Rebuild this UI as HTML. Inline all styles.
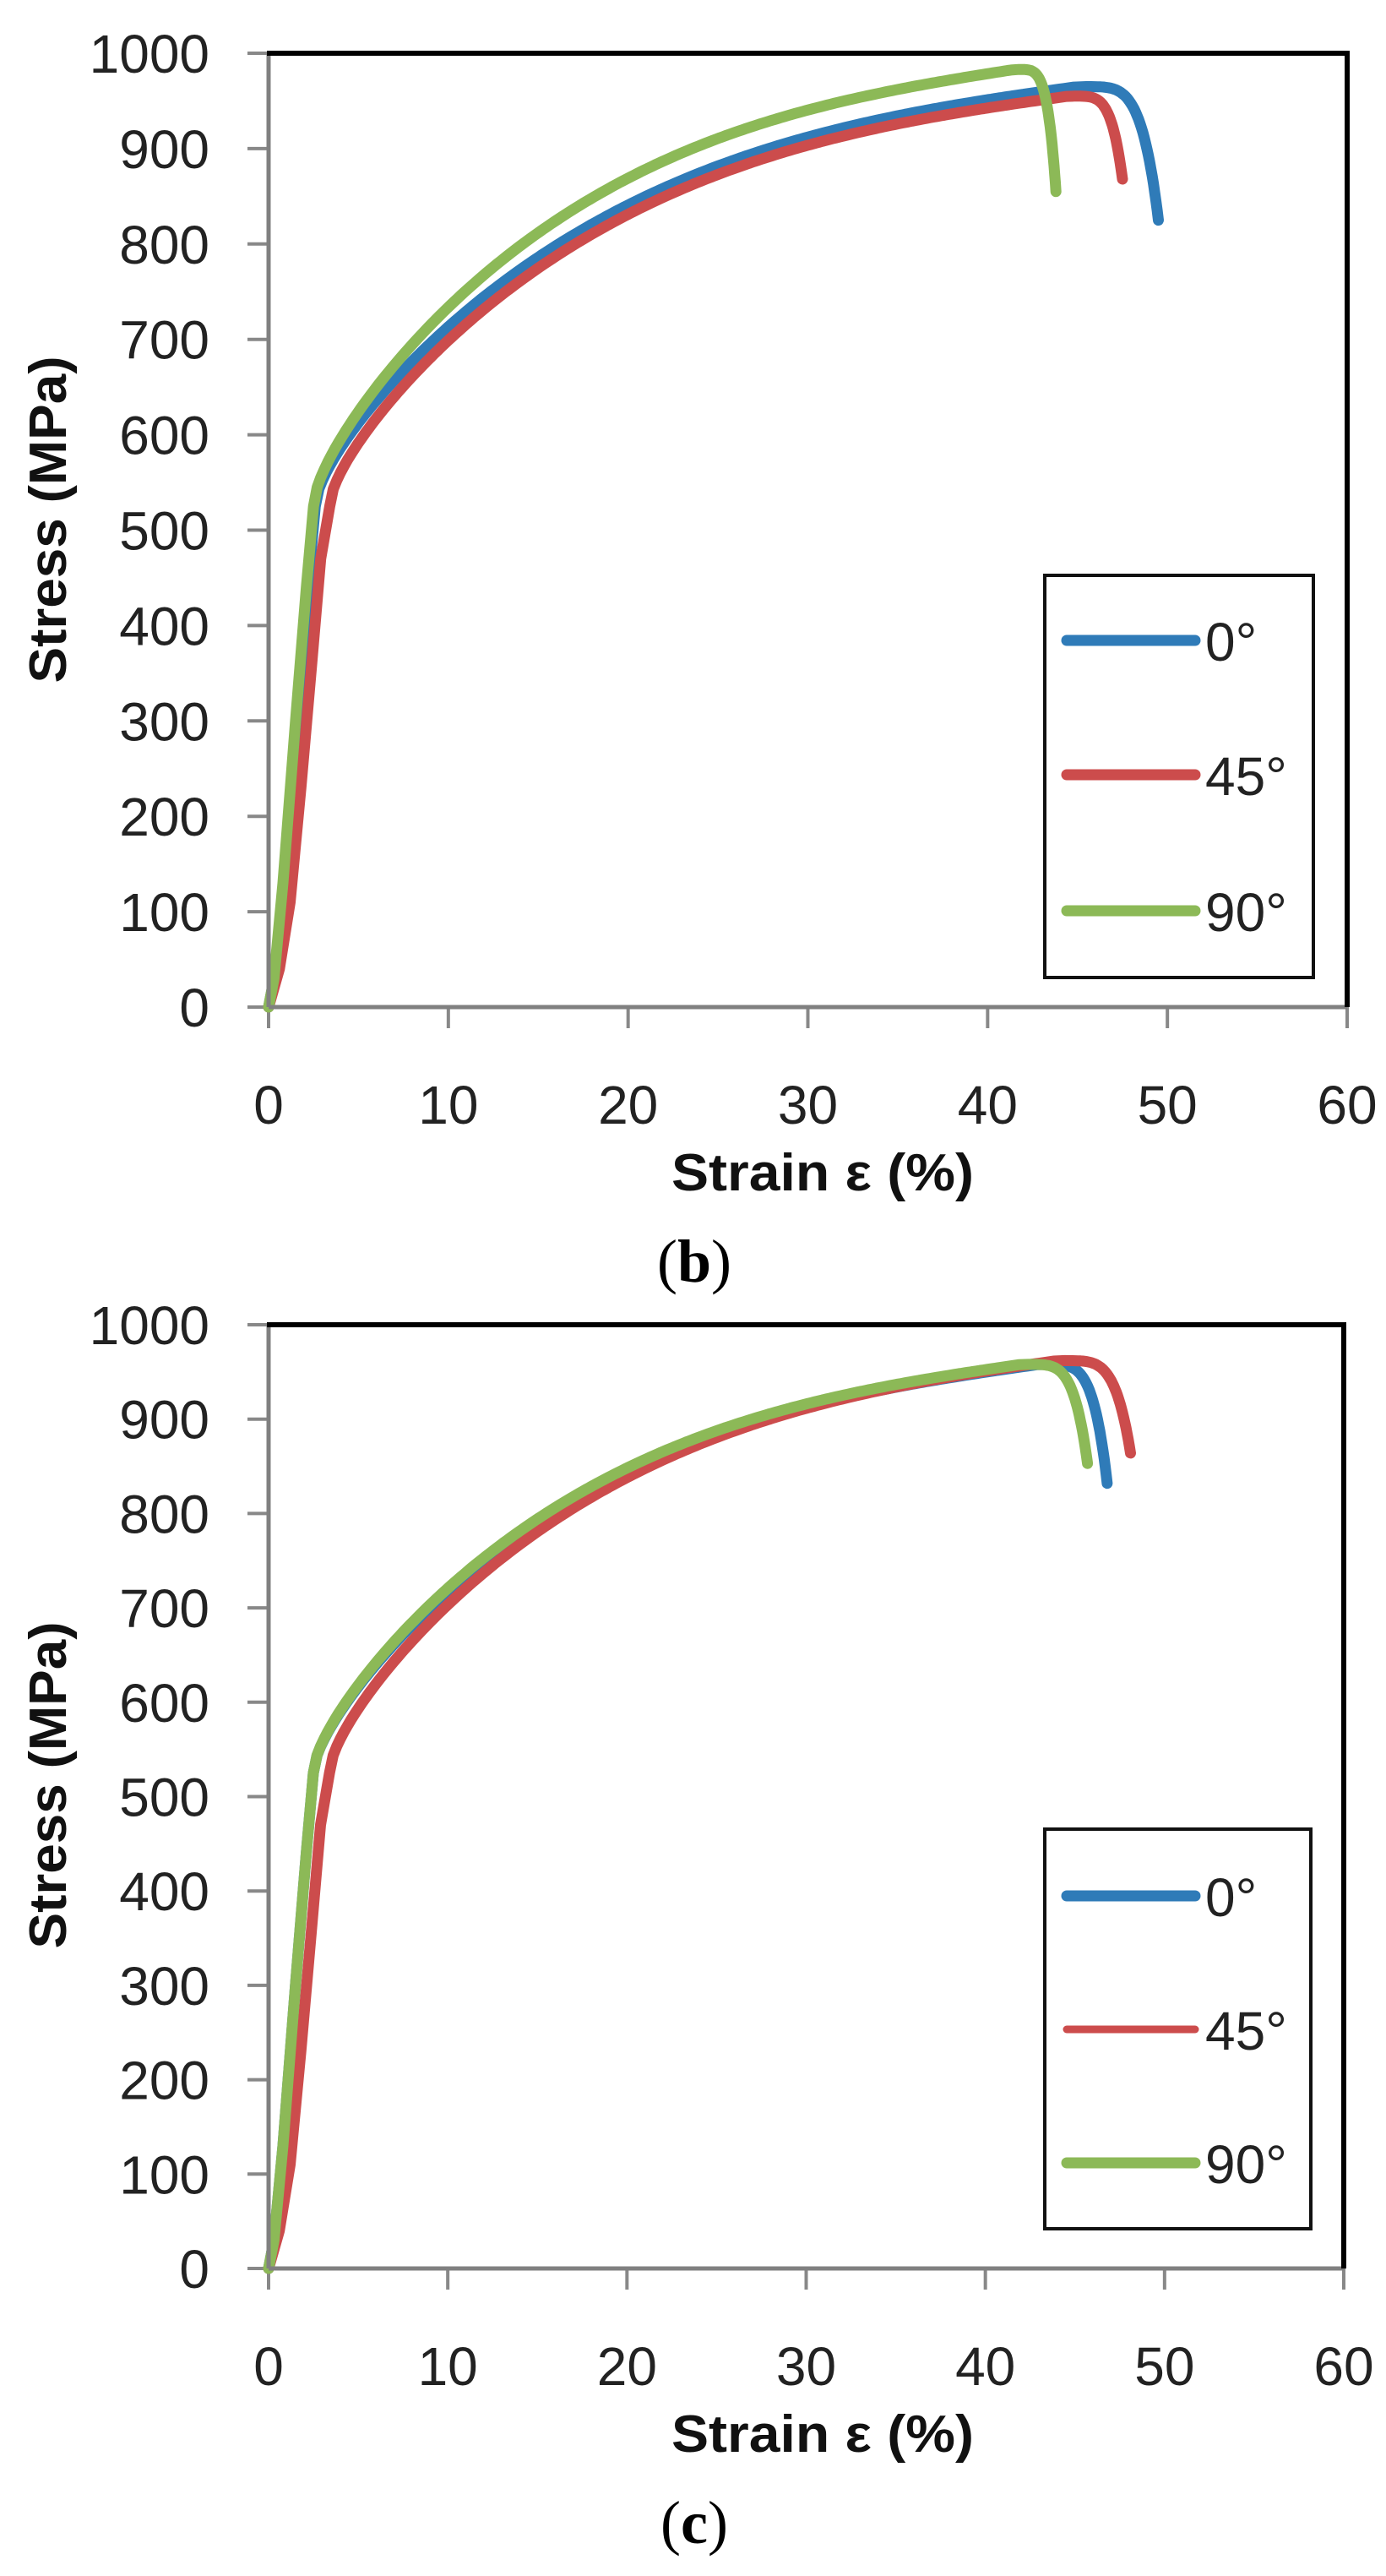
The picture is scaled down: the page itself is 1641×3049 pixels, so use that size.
<!DOCTYPE html>
<html><head><meta charset="utf-8">
<style>
html,body{margin:0;padding:0;background:#fff;}
svg{display:block;}
.tk{font-family:"Liberation Sans",sans-serif;font-size:64px;fill:#222;}
.tt{font-family:"Liberation Sans",sans-serif;font-size:62px;font-weight:bold;fill:#111;}
.cap{font-family:"Liberation Serif",serif;font-size:72px;fill:#000;}
</style></head>
<body>
<svg id="s" width="1641" height="3049" viewBox="0 0 1641 3049" xmlns="http://www.w3.org/2000/svg">
<rect width="1641" height="3049" fill="#fff"/>
<g id="g"></g>
<text class="tt" x="974" y="1409" text-anchor="middle" textLength="358" lengthAdjust="spacingAndGlyphs">Strain ε  (%)</text>
<text class="tt" transform="translate(78,615) rotate(-90)" text-anchor="middle" textLength="387" lengthAdjust="spacingAndGlyphs">Stress  (MPa)</text>
<text class="cap" x="822" y="1517" text-anchor="middle">(<tspan font-weight="bold">b</tspan>)</text>
<text class="tt" x="974" y="2902" text-anchor="middle" textLength="358" lengthAdjust="spacingAndGlyphs">Strain ε  (%)</text>
<text class="tt" transform="translate(78,2113) rotate(-90)" text-anchor="middle" textLength="387" lengthAdjust="spacingAndGlyphs">Stress  (MPa)</text>
<text class="cap" x="822" y="3010" text-anchor="middle">(<tspan font-weight="bold">c</tspan>)</text>
</svg>
<script>
var NS="http://www.w3.org/2000/svg",G=document.getElementById("g");
function el(t,a,txt){var e=document.createElementNS(NS,t);for(var k in a)e.setAttribute(k,a[k]);if(txt!==undefined)e.textContent=txt;G.appendChild(e);return e;}
var BLUE="#2f7bb8",RED="#cc4c4c",GREEN="#8cb957";
function curve(p){
  var pts=[];
  var toe=p.red?[[0,0],[0.6,40],[1.2,110],[1.8,230],[2.4,360],[2.9,470]]:[[0,0],[0.3,30],[0.8,130],[1.5,300],[2.1,440]];
  toe.forEach(function(q){pts.push([q[0]*p.eY/(p.red?3.4:2.5),q[1]]);});
  for(var e=p.eY;e<=p.ep;e+=0.2){var t=(e-p.eY)/(p.ep-p.eY);
    var g=0.5*Math.pow(t,0.5)+0.5*(1-Math.pow(1-t,3));
    pts.push([e,525+(p.sp-525)*g]);}
  for(var i=1;i<=40;i++){var u=i/40;pts.push([p.ep+(p.ee-p.ep)*Math.pow(u,0.6),p.sp-(p.sp-p.se)*Math.pow(u,3)]);}
  return pts;
}
function chart(c){
  var X=function(e){return c.L+e*(c.R-c.L)/60;},Y=function(s){return c.B-s*(c.B-c.T)/1000;};
  for(var i=0;i<=10;i++){var y=Y(i*100);
    el("line",{x1:c.L-25,x2:c.L,y1:y,y2:y,stroke:"#888","stroke-width":4});
    el("text",{"class":"tk",x:248,y:y+23,"text-anchor":"end"},String(i*100));}
  for(var j=0;j<=6;j++){var x=X(j*10);
    el("line",{x1:x,x2:x,y1:c.B,y2:c.B+25,stroke:"#888","stroke-width":4});
    el("text",{"class":"tk",x:x,y:c.B+138,"text-anchor":"middle"},String(j*10));}
  c.series.forEach(function(s){
    var d=curve(s).map(function(q,k){return (k?"L":"M")+X(q[0]).toFixed(1)+","+Y(q[1]).toFixed(1);}).join("");
    el("path",{d:d,fill:"none",stroke:s.col,"stroke-width":13,"stroke-linejoin":"round","stroke-linecap":"round"});
  });
  el("line",{x1:c.L,y1:c.T,x2:c.L,y2:c.B,stroke:"#808080","stroke-width":5});
  el("line",{x1:c.L,y1:c.B,x2:c.R,y2:c.B,stroke:"#808080","stroke-width":5});
  el("line",{x1:c.L-2,y1:c.T,x2:c.R,y2:c.T,stroke:"#000","stroke-width":6});
  el("line",{x1:c.R,y1:c.T-3,x2:c.R,y2:c.B,stroke:"#000","stroke-width":6});
  var lg=c.leg;
  el("rect",{x:lg.l,y:lg.t,width:lg.r-lg.l,height:lg.b-lg.t,fill:"#fff",stroke:"#111","stroke-width":4});
  lg.items.forEach(function(it){
    el("line",{x1:1263,x2:1415,y1:it.y,y2:it.y,stroke:it.col,"stroke-width":it.w,"stroke-linecap":"round"});
    el("text",{"class":"tk",x:1427,y:it.y+24},it.t);
  });
}
chart({L:318,R:1595,T:63,B:1192,
  series:[{col:BLUE,eY:2.6,ep:45,sp:965,ee:49.5,se:825},
          {col:RED,red:1,eY:3.4,ep:44.5,sp:955,ee:47.5,se:868},
          {col:GREEN,eY:2.5,ep:41.5,sp:983,ee:43.8,se:855}],
  leg:{l:1237,r:1555,t:681,b:1157,items:[{y:758,col:BLUE,t:"0°",w:13},{y:917,col:RED,t:"45°",w:13},{y:1078,col:GREEN,t:"90°",w:13}]}});
chart({L:318,R:1591,T:1568,B:2685,
  series:[{col:BLUE,eY:2.5,ep:43,sp:958,ee:46.8,se:832},
          {col:RED,red:1,eY:3.4,ep:44,sp:962,ee:48.1,se:864},
          {col:GREEN,eY:2.5,ep:42,sp:958,ee:45.7,se:853}],
  leg:{l:1237,r:1552,t:2165,b:2638,items:[{y:2244,col:BLUE,t:"0°",w:13},{y:2402,col:RED,t:"45°",w:9},{y:2560,col:GREEN,t:"90°",w:13}]}});
</script>
</body></html>
